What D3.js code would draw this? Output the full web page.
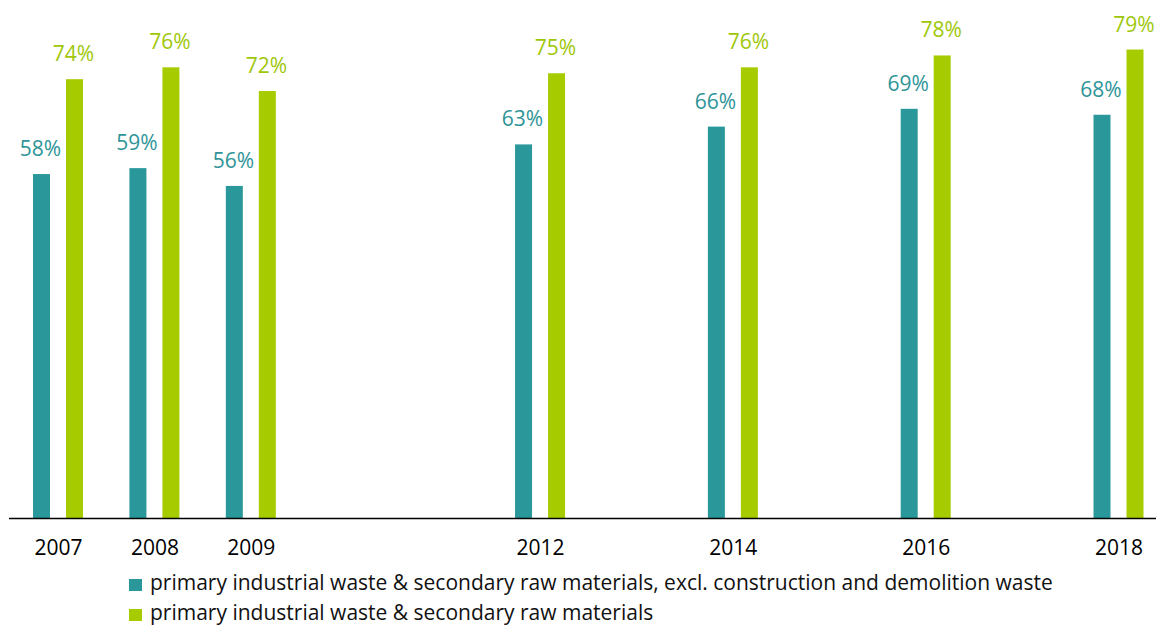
<!DOCTYPE html>
<html><head><meta charset="utf-8">
<script src="https://cdn.jsdelivr.net/npm/d3@7"></script>
<style>body{margin:0;background:#fff}svg{display:block}</style>
</head><body>
<svg id="c" width="1156" height="627"></svg>
<script>
const years = [2007, 2008, 2009, 2012, 2014, 2016, 2018];
const exclCD = [58, 59, 56, 63, 66, 69, 68];
const inclAll = [74, 76, 72, 75, 76, 78, 79];
const seriesNames = [
  "primary industrial waste & secondary raw materials, excl. construction and demolition waste",
  "primary industrial waste & secondary raw materials"
];
const colors = ["#2A979B", "#A6CC00"];
const labelColors = ["#2E9498", "#9EC70A"];

const svg = d3.select("#c");
const x = d3.scaleLinear().domain([2007, 2018]).range([58, 1118.5]);
const y = d3.scaleLinear().domain([0, 100]).range([518, -75]);
const off = 16.5, bw = 17;
const font = "'Open Sans', sans-serif";

const series = [exclCD, inclAll];
series.forEach((vals, si) => {
  const dx = si === 0 ? -off : off;
  const g = svg.append("g");
  g.selectAll("rect").data(years).join("rect")
    .attr("x", (d) => x(d) + dx - bw / 2)
    .attr("y", (d, i) => y(vals[i]))
    .attr("width", bw)
    .attr("height", (d, i) => y(0) - y(vals[i]))
    .attr("fill", colors[si]);
  g.selectAll("text").data(years).join("text")
    .attr("x", (d) => x(d) + dx - 1)
    .attr("y", (d, i) => y(vals[i]) - 18)
    .attr("text-anchor", "middle")
    .attr("font-family", font)
    .attr("font-size", 21)
    .attr("fill", labelColors[si])
    .text((d, i) => vals[i] + "%");
});

// axis
const axis = d3.axisBottom(x).tickValues(years).tickFormat(d3.format("d")).tickSize(0).tickPadding(22);
const ag = svg.append("g").attr("transform", "translate(0,518)").call(axis);
ag.select(".domain").remove();
ag.selectAll("text").attr("font-family", font).attr("font-size", 21).attr("fill", "#000");
svg.append("line").attr("x1", 9).attr("x2", 1156).attr("y1", 518.5).attr("y2", 518.5)
  .attr("stroke", "#000").attr("stroke-width", 1.3);

// legend
const lg = svg.append("g");
seriesNames.forEach((n, i) => {
  const yy = 584 + i * 30;
  lg.append("rect").attr("x", 129).attr("y", yy - 5).attr("width", 13).attr("height", 12).attr("fill", colors[i]);
  lg.append("text").attr("x", 150).attr("y", yy + 6).attr("font-family", font).attr("font-size", 21)
    .attr("fill", "#111").text(n);
});
</script>
</body></html>
